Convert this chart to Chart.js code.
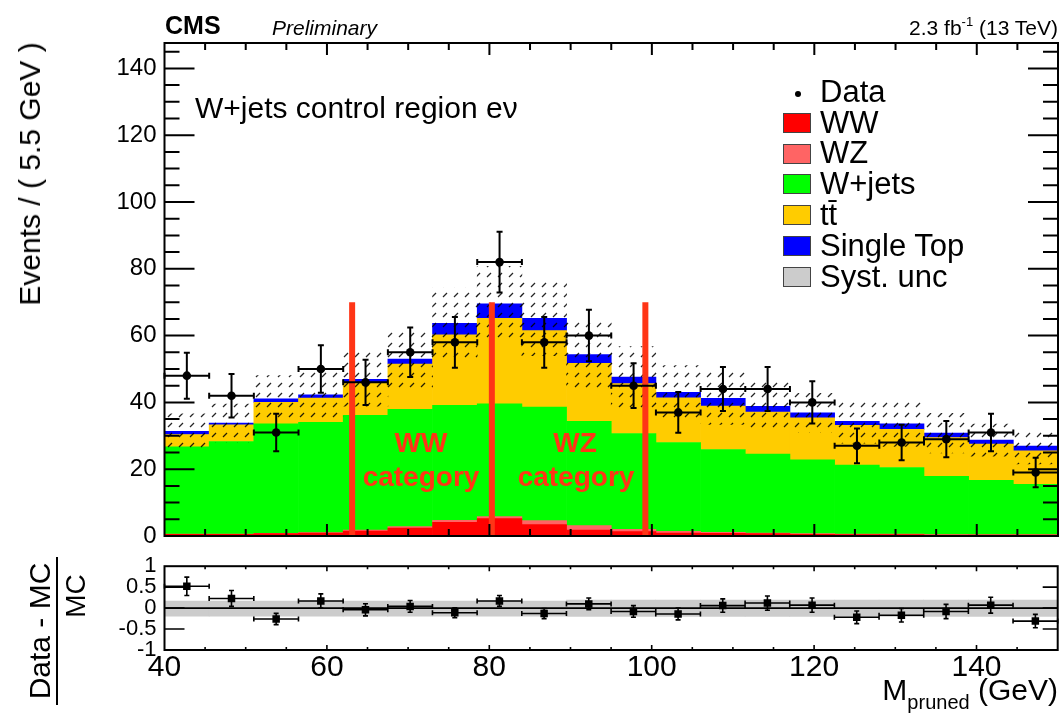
<!DOCTYPE html>
<html><head><meta charset="utf-8">
<script src="https://cdn.jsdelivr.net/npm/chart.js@4.4.1/dist/chart.umd.min.js"></script>
<style>
html,body{margin:0;padding:0;background:#fff;}
#wrap{position:relative;width:1063px;height:715px;overflow:hidden;font-family:'Liberation Sans',Arial,Helvetica,sans-serif;color:#000;}
canvas{position:absolute;left:0;}
.t{position:absolute;white-space:nowrap;line-height:1;}
.c{transform:translateX(-50%);}
.cat{color:#ff3516;font-weight:bold;font-size:28px;}
.rot{transform:translate(-50%,-50%) rotate(-90deg);}
</style></head><body>
<div id="wrap">
<canvas id="main" width="1063" height="560" style="top:0"></canvas>
<canvas id="ratio" width="1063" height="170" style="top:545px"></canvas>

<div class="t" style="left:165px;top:13px;font-size:25px;font-weight:bold;">CMS</div>
<div class="t" style="left:272px;top:17px;font-size:21px;font-style:italic;">Preliminary</div>
<div class="t" style="right:5px;top:17px;font-size:21px;">2.3 fb<sup style="font-size:13px;vertical-align:9px;line-height:0">-1</sup> (13 TeV)</div>
<div class="t" style="left:195px;top:93px;font-size:30px;">W+jets control region eν</div>

<div class="t c cat" style="left:421px;top:429px;">WW</div>
<div class="t c cat" style="left:421px;top:463px;">category</div>
<div class="t c cat" style="left:575px;top:429px;">WZ</div>
<div class="t c cat" style="left:576px;top:463px;">category</div>

<div class="t rot" style="left:30px;top:174px;font-size:30px;">Events / ( 5.5 GeV )</div>

<div id="legend"></div>

<div class="t rot" style="left:40px;top:631px;font-size:30px;">Data - MC</div>
<div style="position:absolute;left:56px;top:557px;width:2px;height:148px;background:#000;"></div>
<div class="t rot" style="left:76px;top:596px;font-size:28px;">MC</div>

<div class="t" style="right:5px;top:675px;font-size:30px;">M<span style="font-size:20px;position:relative;top:9px;">pruned</span> (GeV)</div>
</div>

<script>
// ---------------- data ----------------
const binCenters = [42.75, 48.25, 53.75, 59.25, 64.75, 70.25, 75.75, 81.25, 86.75, 92.25,
                    97.75, 103.25, 108.75, 114.25, 119.75, 125.25, 130.75, 136.25, 141.75, 147.25];
const binHalfWidth = 2.75;
const xMin = 40, xMax = 150;

const dataCounts = [48, 42, 31, 50, 46, 55, 58, 82, 58, 60, 45, 37, 44, 44, 40, 27, 28, 29, 31, 19];
const dataErr    = [6.9, 6.5, 5.6, 7.1, 6.8, 7.4, 7.6, 9.1, 7.6, 7.7, 6.7, 6.1, 6.6, 6.6, 6.3, 5.2, 5.3, 5.4, 5.6, 4.4];

const wwValues        = [0.5, 0.5, 0.7, 0.9, 1.5, 2.4, 4.1, 5.2, 3.4, 1.8, 1.3, 0.9, 0.8, 0.7, 0.5, 0.4, 0.4, 0.3, 0.3, 0.3];
const wzValues        = [0.1, 0.1, 0.1, 0.1, 0.3, 0.4, 0.6, 0.6, 1.2, 1.3, 0.7, 0.5, 0.3, 0.2, 0.2, 0.15, 0.15, 0.15, 0.1, 0.1];
const wjetsValues     = [26.1, 27.7, 32.8, 33.0, 34.3, 35.1, 34.4, 33.8, 34.0, 31.2, 28.7, 26.6, 24.8, 23.6, 22.1, 20.65, 19.95, 17.45, 16.3, 15.1];
const ttbarValues     = [3.7, 5.0, 6.4, 7.3, 9.8, 13.6, 21.1, 25.6, 22.9, 17.4, 14.9, 13.4, 13.0, 12.6, 12.55, 11.9, 11.4, 11.6, 10.8, 10.0];
const singleTopValues = [0.9, 0.5, 1.1, 1.0, 1.0, 1.5, 3.5, 4.3, 3.7, 2.6, 2.0, 1.6, 2.3, 1.7, 1.5, 1.2, 1.7, 1.3, 1.2, 1.4];

const systLow  = [26.0, 28.0, 34.2, 35.1, 38.9, 44.0, 53.2, 58.3, 54.0, 44.0, 38.5, 35.0, 33.4, 31.6, 30.9, 27.8, 26.8, 24.9, 23.9, 21.6];
const systHigh = [36.6, 39.5, 48.0, 49.5, 55.0, 62.2, 74.2, 80.7, 76.4, 64.9, 56.7, 51.0, 49.0, 46.0, 42.7, 40.9, 40.5, 36.7, 33.5, 32.2];

const ratioValues = [0.52, 0.23, -0.26, 0.17, -0.04, 0.04, -0.11, 0.17, -0.13, 0.10,
                     -0.08, -0.14, 0.06, 0.12, 0.07, -0.22, -0.17, -0.08, 0.07, -0.31];
const ratioErr    = [0.22, 0.19, 0.135, 0.17, 0.145, 0.14, 0.12, 0.13, 0.12, 0.14,
                     0.14, 0.14, 0.16, 0.17, 0.17, 0.15, 0.16, 0.17, 0.19, 0.16];
const ratioSystLow  = [-0.19, -0.19, -0.19, -0.19, -0.19, -0.19, -0.19, -0.19, -0.19, -0.2,
                       -0.2, -0.2, -0.2, -0.2, -0.2, -0.2, -0.2, -0.2, -0.2, -0.2];
const ratioSystHigh = [0.17, 0.17, 0.17, 0.17, 0.17, 0.17, 0.17, 0.17, 0.17, 0.19,
                       0.19, 0.19, 0.19, 0.19, 0.19, 0.19, 0.19, 0.19, 0.19, 0.19];
const ratioTickLabels = [-1, -0.5, 0, 0.5, 1];

const categoryLinePositions = [63.1, 80.3, 99.2];
const categoryLineTop = 70;

const mainYMax = 147.6;
const mainYStep = 20, mainYMinor = 5;
const xMajorStep = 20, xMinorStep = 5;
const ratioYMin = -1, ratioYMax = 1, ratioYStep = 0.5;

// ---------------- styles ----------------
const FONT = "'Liberation Sans', Arial, Helvetica, sans-serif";
Chart.defaults.font.family = FONT;
Chart.defaults.color = '#000';

const mcSeries = [
  {label: 'WW',         values: wwValues,        color: '#ff0000'},
  {label: 'WZ',         values: wzValues,        color: '#ff6464'},
  {label: 'W+jets',     values: wjetsValues,     color: '#00ff00'},
  {label: 'tt\u0304',   values: ttbarValues,     color: '#ffcc00'},
  {label: 'Single Top', values: singleTopValues, color: '#0000ff'}
];
const systColor = '#cccccc';
const catLineColor = '#ff3516';

function hatchPattern(ctx) {
  const c = document.createElement('canvas');
  c.width = 11; c.height = 10;
  const g = c.getContext('2d');
  g.strokeStyle = 'rgba(0,0,0,0.85)';
  g.lineWidth = 1.2;
  g.beginPath(); g.moveTo(3, 7); g.lineTo(7, 3); g.stroke();
  return ctx.createPattern(c, 'repeat');
}

// ---------------- plugins ----------------
const frameTicks = {
  id: 'frameTicks',
  afterDraw(chart, args, o) {
    const {ctx, chartArea: a} = chart;
    const xs = chart.scales.x, ys = chart.scales.y;
    ctx.save();
    ctx.strokeStyle = '#000';
    ctx.lineWidth = o.tickWidth;
    ctx.beginPath();
    const nx = Math.round((xs.max - xs.min) / o.xMinor);
    for (let i = 1; i < nx; i++) {
      const v = xs.min + i * o.xMinor;
      const major = Math.abs(v / o.xMajor - Math.round(v / o.xMajor)) < 1e-6;
      const len = major ? o.xMajLen : o.xMinLen;
      const px = xs.getPixelForValue(v);
      ctx.moveTo(px, a.bottom); ctx.lineTo(px, a.bottom - len);
      ctx.moveTo(px, a.top); ctx.lineTo(px, a.top + len);
    }
    const ny = Math.floor((ys.max - ys.min) / o.yMinor + 1e-6);
    for (let i = 1; i <= ny; i++) {
      const v = ys.min + i * o.yMinor;
      if (v >= ys.max - 1e-6) continue;
      const major = Math.abs(v / o.yMajor - Math.round(v / o.yMajor)) < 1e-6;
      if (!major && !o.yMinLen) continue;
      const len = major ? o.yMajLen : o.yMinLen;
      const py = ys.getPixelForValue(v);
      ctx.moveTo(a.left, py); ctx.lineTo(a.left + len, py);
      ctx.moveTo(a.right, py); ctx.lineTo(a.right - (major ? o.yMajLenR : o.yMinLen), py);
    }
    ctx.stroke();
    ctx.lineWidth = o.frameWidth;
    ctx.strokeRect(a.left, a.top, a.width, a.height);
    ctx.restore();
  }
};

const errorBars = {
  id: 'errorBars',
  beforeDatasetDraw(chart, args) {
    const ds = chart.data.datasets[args.index];
    if (!ds.errorBars) return;
    const eb = ds.errorBars;
    const meta = args.meta;
    const xs = chart.scales[meta.xAxisID], ys = chart.scales[meta.yAxisID];
    const ctx = chart.ctx;
    ctx.save();
    ctx.strokeStyle = '#000';
    ctx.lineWidth = eb.width;
    ctx.beginPath();
    ds.data.forEach((p, i) => {
      const cx = xs.getPixelForValue(p.x), cy = ys.getPixelForValue(p.y);
      const xl = xs.getPixelForValue(p.x - eb.xHalf), xr = xs.getPixelForValue(p.x + eb.xHalf);
      const yt = ys.getPixelForValue(p.y + eb.yErr[i]), yb = ys.getPixelForValue(p.y - eb.yErr[i]);
      ctx.moveTo(xl, cy); ctx.lineTo(xr, cy);
      ctx.moveTo(cx, yt); ctx.lineTo(cx, yb);
      ctx.moveTo(xl, cy - eb.cap); ctx.lineTo(xl, cy + eb.cap);
      ctx.moveTo(xr, cy - eb.cap); ctx.lineTo(xr, cy + eb.cap);
      ctx.moveTo(cx - eb.cap, yt); ctx.lineTo(cx + eb.cap, yt);
      ctx.moveTo(cx - eb.cap, yb); ctx.lineTo(cx + eb.cap, yb);
    });
    ctx.stroke();
    ctx.restore();
  }
};

// pin the plotting area to fixed pixel bounds by adjusting the layout padding
function pinArea(chart, target) {
  for (let k = 0; k < 6; k++) {
    const a = chart.chartArea, p = chart.options.layout.padding;
    const dl = target.left - a.left, dr = a.right - target.right;
    const dt = target.top - a.top, db = a.bottom - target.bottom;
    if (Math.abs(dl) + Math.abs(dr) + Math.abs(dt) + Math.abs(db) < 0.05) break;
    p.left += dl; p.right += dr; p.top += dt; p.bottom += db;
    chart.update();
  }
}

// ---------------- main chart ----------------
const mainCanvas = document.getElementById('main');
const mainCtx = mainCanvas.getContext('2d');
const hatch = hatchPattern(mainCtx);

const mainDatasets = [];
mainDatasets.push({
  type: 'scatter', label: 'Data',
  data: binCenters.map((x, i) => ({x, y: dataCounts[i]})),
  yAxisID: 'yo', pointRadius: 4.3, pointBackgroundColor: '#000', pointBorderWidth: 0,
  errorBars: {xHalf: binHalfWidth, yErr: dataErr, width: 2, cap: 3}
});
categoryLinePositions.forEach(xv => {
  mainDatasets.push({
    type: 'line', label: 'category boundary',
    data: [{x: xv, y: 0}, {x: xv, y: categoryLineTop}],
    yAxisID: 'yo', borderColor: catLineColor, borderWidth: 6, pointRadius: 0, borderCapStyle: 'butt'
  });
});
mainDatasets.push({
  type: 'bar', label: 'Syst. unc',
  data: binCenters.map((x, i) => ({x, y: [systLow[i], systHigh[i]]})),
  yAxisID: 'yo', grouped: false, backgroundColor: hatch, borderWidth: 0,
  barPercentage: 1, categoryPercentage: 1
});
mcSeries.forEach(s => {
  mainDatasets.push({
    type: 'bar', label: s.label, stack: 'mc',
    data: binCenters.map((x, i) => ({x, y: s.values[i]})),
    yAxisID: 'y', backgroundColor: s.color, borderWidth: 0,
    barPercentage: 1, categoryPercentage: 1
  });
});

const mainChart = new Chart(mainCtx, {
  type: 'bar',
  data: {datasets: mainDatasets},
  options: {
    responsive: false, animation: false, events: [],
    layout: {padding: {left: 60, right: 5, top: 43, bottom: 24}},
    plugins: {
      legend: {display: false}, tooltip: {enabled: false},
      frameTicks: {tickWidth: 2, frameWidth: 2, xMinor: xMinorStep, xMajor: xMajorStep, xMajLen: 12, xMinLen: 7,
                   yMinor: mainYMinor, yMajor: mainYStep, yMajLen: 30, yMajLenR: 30, yMinLen: 15}
    },
    scales: {
      x: {type: 'linear', min: xMin, max: xMax, offset: false, display: false, grid: {offset: false}},
      y: {
        type: 'linear', stacked: true, min: 0, max: mainYMax,
        grid: {display: false, drawTicks: false}, border: {display: false},
        ticks: {stepSize: mainYStep, includeBounds: false, padding: 8, font: {size: 24}, color: '#000', autoSkip: false}
      },
      yo: {type: 'linear', min: 0, max: mainYMax, display: false}
    }
  },
  plugins: [frameTicks, errorBars]
});
pinArea(mainChart, {left: 164.5, right: 1058, top: 43, bottom: 536});

// ---------------- ratio chart ----------------
const ratioChart = new Chart(document.getElementById('ratio').getContext('2d'), {
  type: 'bar',
  data: {datasets: [
    {
      type: 'scatter', label: 'Data/MC',
      data: binCenters.map((x, i) => ({x, y: ratioValues[i]})),
      pointStyle: 'rect', pointRadius: 5.3, pointBackgroundColor: '#000', pointBorderWidth: 0,
      errorBars: {xHalf: binHalfWidth, yErr: ratioErr, width: 1.6, cap: 2.5}
    },
    {
      type: 'line', label: 'zero',
      data: [{x: xMin, y: 0}, {x: xMax, y: 0}],
      borderColor: '#000', borderWidth: 1.6, pointRadius: 0
    },
    {
      type: 'bar', label: 'Syst. unc',
      data: binCenters.map((x, i) => ({x, y: [ratioSystLow[i], ratioSystHigh[i]]})),
      backgroundColor: systColor, borderWidth: 0, grouped: false,
      barPercentage: 1, categoryPercentage: 1
    }
  ]},
  options: {
    responsive: false, animation: false, events: [],
    layout: {padding: {left: 120, right: 5, top: 16, bottom: 20}},
    plugins: {
      legend: {display: false}, tooltip: {enabled: false},
      frameTicks: {tickWidth: 1.6, frameWidth: 2, xMinor: xMinorStep, xMajor: xMajorStep, xMajLen: 5, xMinLen: 3,
                   yMinor: ratioYStep, yMajor: ratioYStep, yMajLen: 20, yMajLenR: 15, yMinLen: 0}
    },
    scales: {
      x: {
        type: 'linear', min: xMin, max: xMax, offset: false,
        grid: {display: false, drawTicks: false, offset: false}, border: {display: false},
        ticks: {stepSize: xMajorStep, includeBounds: false, padding: 0, font: {size: 30}, color: '#000', maxRotation: 0, autoSkip: false}
      },
      y: {
        type: 'linear', min: ratioYMin, max: ratioYMax,
        grid: {display: false, drawTicks: false}, border: {display: false},
        afterBuildTicks(scale) { scale.ticks = ratioTickLabels.map(v => ({value: v})); },
        ticks: {autoSkip: false, padding: 8, font: {size: 22}, color: '#000',
                callback: v => String(Math.round(v * 100) / 100)}
      }
    }
  },
  plugins: [frameTicks, errorBars]
});
pinArea(ratioChart, {left: 164.5, right: 1058, top: 16, bottom: 105});

// ---------------- legend (built from the series definitions) ----------------
(function buildLegend() {
  const wrap = document.getElementById('wrap');
  const entries = [{label: 'Data', marker: true}]
    .concat(mcSeries.map(s => ({label: s.label, color: s.color})))
    .concat([{label: 'Syst. unc', color: systColor}]);
  const baseline0 = 102, rowStep = 30.8, fontSize = 31;
  entries.forEach((e, i) => {
    const base = baseline0 + i * rowStep;
    if (e.marker) {
      const d = document.createElement('div');
      d.style.cssText = `position:absolute;left:795px;top:${base - 11}px;width:6px;height:6px;border-radius:3px;background:#000;`;
      wrap.appendChild(d);
    } else {
      const b = document.createElement('div');
      b.style.cssText = `position:absolute;left:783px;top:${base - 20}px;width:28px;height:20px;background:${e.color};border:1.5px solid #444;box-sizing:border-box;`;
      wrap.appendChild(b);
    }
    const t = document.createElement('div');
    t.className = 't';
    t.style.cssText = `left:820px;top:${base - 0.8465 * fontSize}px;font-size:${fontSize}px;`;
    t.textContent = e.label;
    wrap.appendChild(t);
  });
})();
</script>
</body></html>
